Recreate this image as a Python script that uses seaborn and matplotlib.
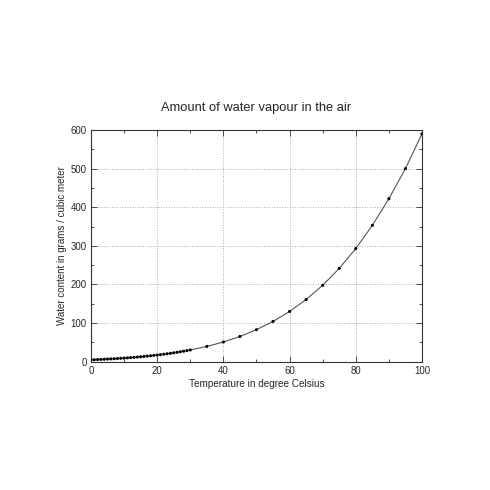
import matplotlib

matplotlib.use("Agg")
import pandas as pd
import seaborn as sns
from matplotlib import pyplot as plt
from matplotlib.ticker import MultipleLocator

# 温度 (°C) と飽和水蒸気量 (g/m3)
temperature = [
    0, 1, 2, 3, 4, 5, 6, 7, 8, 9, 10, 11, 12, 13, 14, 15, 16, 17, 18, 19, 20,
    21, 22, 23, 24, 25, 26, 27, 28, 29, 30, 35, 40, 45, 50, 55, 60, 65, 70, 75,
    80, 85, 90, 95, 100,
]
water_content = [
    4.8, 5.2, 5.6, 6.0, 6.4, 6.8, 7.3, 7.8, 8.3, 8.8, 9.4, 10.0, 10.7, 11.4,
    12.1, 12.8, 13.6, 14.5, 15.4, 16.3, 17.3, 18.3, 19.4, 20.6, 21.8, 23.0,
    24.4, 25.8, 27.2, 28.8, 30.4, 39.6, 51.1, 65.4, 83.0, 104.3, 130.2, 161.1,
    197.9, 241.6, 293.0, 353.1, 422.0, 500.0, 590.0,
]

df = pd.DataFrame({"temperature": temperature, "water": water_content})

sns.set_theme(style="ticks")
plt.rcParams["font.family"] = ["Liberation Sans", "DejaVu Sans"]

fig = plt.figure(figsize=(4.9, 4.9), dpi=100)
ax = fig.add_axes([0.1857, 0.2618, 0.6755, 0.4729])

# 曲線と測定点
sns.lineplot(data=df, x="temperature", y="water", ax=ax, color="#555555", linewidth=0.8)
sns.scatterplot(data=df, x="temperature", y="water", ax=ax, color="black", s=5, edgecolor="none", zorder=3)

ax.set_xlim(0, 100)
ax.set_ylim(0, 600)
ax.xaxis.set_major_locator(MultipleLocator(20))
ax.xaxis.set_minor_locator(MultipleLocator(10))
ax.yaxis.set_major_locator(MultipleLocator(100))
ax.yaxis.set_minor_locator(MultipleLocator(50))
ax.tick_params(which="both", direction="in", top=True, right=True, labelsize=6.9, width=0.6, color="#333333", pad=3)
ax.tick_params(which="major", length=4)
ax.tick_params(which="minor", length=2.5)
ax.grid(True, which="major", linestyle=":", color="#aaaaaa", linewidth=0.7)

for spine in ax.spines.values():
    spine.set_linewidth(0.8)
    spine.set_color("#333333")

ax.set_xlabel("Temperature in degree Celsius", fontsize=7.2, labelpad=2)
ax.set_ylabel("Water content in grams / cubic meter", fontsize=7, labelpad=3)
ax.set_title("Amount of water vapour in the air", fontsize=9.3, pad=14)

fig.savefig("out.png", dpi=100, facecolor="white")
